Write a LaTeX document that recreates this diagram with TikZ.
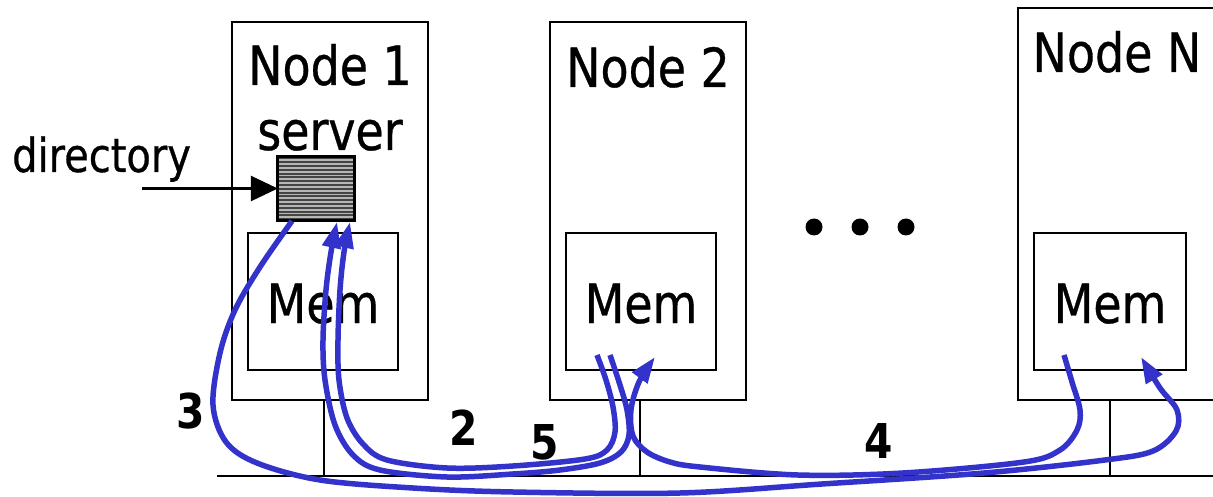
\documentclass[tikz,border=0pt]{standalone}
\usepackage{fontspec}
\newfontfamily\dvs[FakeStretch=0.85,FakeBold=0.6]{DejaVu Sans}
\newfontfamily\dvsbold[FakeStretch=0.85]{DejaVu Sans Bold}
\usetikzlibrary{arrows.meta}
\definecolor{flowblue}{RGB}{51,51,204}
\definecolor{stripeLight}{RGB}{182,182,182}
\definecolor{stripeDark}{RGB}{68,68,68}
\begin{document}
\begin{tikzpicture}[x=1pt,y=-1pt,
  wire/.style={line width=2.8pt},
  hostbox/.style={draw, line width=2.8pt, inner sep=0pt, minimum width=196pt},
  membox/.style={draw, line width=2.8pt, inner sep=0pt, minimum height=137pt},
  lbl/.style={inner sep=0pt, anchor=base, font=\dvs\fontsize{54pt}{60pt}\selectfont},
  small/.style={inner sep=0pt, anchor=base west, font=\dvs\fontsize{47pt}{54pt}\selectfont},
  stepno/.style={inner sep=0pt, anchor=base, font=\dvsbold\fontsize{48pt}{54pt}\selectfont},
  flow/.style={draw=flowblue, line width=5.5pt, line join=round},
  flowtip/.style={-{Triangle[length=26pt,width=18pt]}, flow},
  dot/.style={fill=black, circle, inner sep=0pt, minimum size=17pt}]

\useasboundingbox (0,0) rectangle (1213,497);

% hosts
\node[hostbox, minimum height=378pt] (n1) at (330,211) {};
\node[hostbox, minimum height=378pt] (n2) at (648,211) {};
\node[hostbox, minimum height=392pt] (nN) at (1116,204) {};

% memories
\node[membox, minimum width=150pt] (m1) at (323,301.5) {};
\node[membox, minimum width=150pt] (m2) at (641,301.5) {};
\node[membox, minimum width=152pt] (mN) at (1110,301.5) {};

% labels
\node[lbl] (t1) at (330,85) {Node 1};
\node[lbl] (ts) at (330,150) {server};
\node[lbl] (t2) at (648,87) {Node 2};
\node[lbl] (tN) at (1117,72) {Node N};
\node[lbl] (tm1) at (323,323) {Mem};
\node[lbl] (tm2) at (641,323) {Mem};
\node[lbl] (tmN) at (1110,323) {Mem};
\node[small] (tdir) at (12,172) {directory};

% directory block with horizontal stripes
\node[fill=stripeLight, inner sep=0pt, minimum width=76pt, minimum height=63pt] (dir) at (316,188.5) {};
\begin{scope}
  \clip (dir.south west) rectangle (dir.north east);
  \foreach \k in {0,...,16} {
    \draw[stripeDark, line width=2pt] (278,158.5+3.8*\k) -- (354,158.5+3.8*\k);
  }
\end{scope}
\draw[wire] (dir.south west) rectangle (dir.north east);

% pointer to the directory
\coordinate (dsrc) at (142,188.5);
\draw[wire, -{Triangle[length=27pt,width=25pt]}] (dsrc) -- (dir.west);

% dots
\node[dot] (d1) at (814,227) {};
\node[dot] (d2) at (860,227) {};
\node[dot] (d3) at (906,227) {};

% network
\coordinate (busL) at (217,476);
\coordinate (busR) at (1213,476);
\draw[wire] (busL) -- (busR);
\draw[wire] ([xshift=-6pt]n1.south) -- ([xshift=-6pt]n1.south |- busL);
\draw[wire] ([xshift=-8pt]n2.south) -- ([xshift=-8pt]n2.south |- busL);
\draw[wire] ([xshift=-6pt]nN.south) -- ([xshift=-6pt]nN.south |- busL);

% message flows
\coordinate (s3) at (292,221);
\coordinate (e3) at (1141,357);
\draw[flowtip] plot[smooth, tension=0.55] coordinates {(s3) (260,267) (235,310) (220,353) (213,405) (226,442) (257,463) (320,480) (413,488) (513,492) (680,493) (822,484) (984,473) (1105,460) (1153,451) (1176,431) (1177,410) (1160,388) (e3)};

\coordinate (s4) at (1064,355);
\coordinate (e4) at (655,357);
\draw[flowtip] plot[smooth, tension=0.55] coordinates {(s4) (1072,382) (1080,410) (1077,430) (1060,450) (1024,462) (903,473) (798,475) (700,467) (670,462) (647,452) (633,436) (631,410) (639,382) (e4)};

\coordinate (s2) at (610,355);
\coordinate (e2) at (337,222);
\draw[flowtip] plot[smooth, tension=0.55] coordinates {(s2) (620,385) (627,410) (629,435) (621,452) (600,463) (560,470) (513,474) (447,477) (380,470) (353,455) (335,425) (325,380) (323,340) (326,290) (331,252) (e2)};

\coordinate (s5) at (597,355);
\coordinate (e5) at (350,222);
\draw[flowtip] plot[smooth, tension=0.55] coordinates {(s5) (606,380) (613,407) (615,432) (607,450) (585,459) (513,466) (447,468) (387,460) (363,444) (347,418) (339,380) (338,340) (340,290) (344,252) (e5)};

% step numbers
\node[stepno] (k3) at (191,428) {3};
\node[stepno] (k2) at (464,445) {2};
\node[stepno] (k5) at (545,459) {5};
\node[stepno] (k4) at (879,458) {4};
\end{tikzpicture}
\end{document}
